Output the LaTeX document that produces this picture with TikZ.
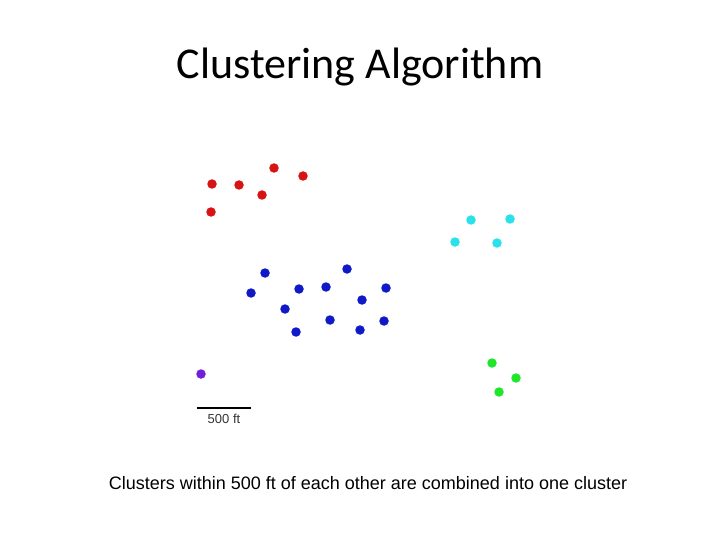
\documentclass[tikz,border=0pt]{standalone}
\usepackage{fontspec}
\setmainfont{Liberation Sans}
\newfontfamily\titlefont{Carlito}
\usetikzlibrary{positioning, calc}
\definecolor{clred}{RGB}{215,20,20}
\definecolor{clblue}{RGB}{15,25,200}
\definecolor{clcyan}{RGB}{40,225,235}
\definecolor{clgreen}{RGB}{30,230,40}
\definecolor{clpurple}{RGB}{115,30,215}

\begin{document}
\begin{tikzpicture}[
        x=1pt, y=-1pt,
        pt/.style={circle, inner sep=0pt, minimum size=9.5pt},
        title/.style={font=\titlefont\fontsize{44}{50}\selectfont},
        caption/.style={font=\fontsize{18}{21}\selectfont},
        scalelbl/.style={font=\fontsize{13}{15}\selectfont, text=black!80},
    ]
    \useasboundingbox (0,0) rectangle (720,540);

    \node[title] (head) at (360,67) {Clustering Algorithm};

    % red cluster
    \foreach \px/\py [count=\i] in {212/184, 239/185, 274/168, 303/176, 262/195, 211/212}
        \node[pt, fill=clred] (r\i) at (\px,\py) {};
    % blue cluster
    \foreach \px/\py [count=\i] in {265/273, 251/293, 299/289, 326/287, 347/269, 386/288,
            362/300, 285/309, 330/320, 384/321, 296/332, 360/330}
        \node[pt, fill=clblue] (b\i) at (\px,\py) {};
    % cyan cluster
    \foreach \px/\py [count=\i] in {471/220, 510/219, 455/242, 497/243}
        \node[pt, fill=clcyan] (c\i) at (\px,\py) {};
    % green cluster
    \foreach \px/\py [count=\i] in {492/363, 516/378, 499/392}
        \node[pt, fill=clgreen] (g\i) at (\px,\py) {};
    \node[pt, fill=clpurple] (p1) at (201,374) {};

    % scale bar
    \coordinate (sbl) at (197,408);
    \coordinate (sbr) at (251,408);
    \draw[line width=1.6pt] (sbl) -- (sbr);
    \node[scalelbl, below=3pt of $(sbl)!0.5!(sbr)$] (sblbl) {500 ft};

    \node[caption] (cap) at (368,483) {Clusters within 500 ft of each other are combined into one cluster};
\end{tikzpicture}
\end{document}
